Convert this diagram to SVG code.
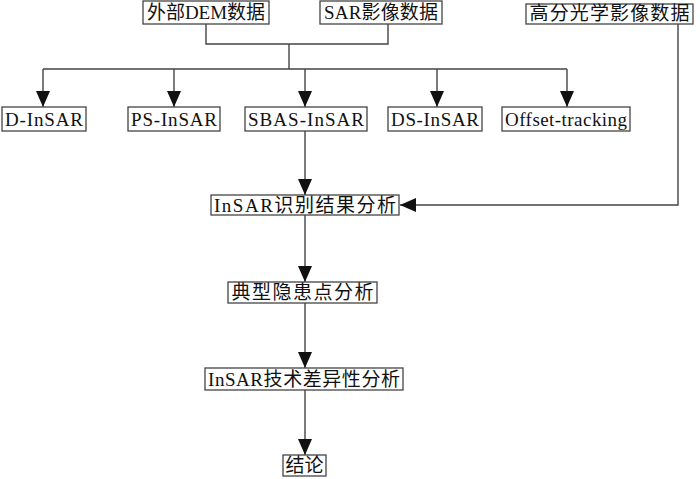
<svg xmlns="http://www.w3.org/2000/svg" width="700" height="479" viewBox="0 0 700 479">
<defs>
<marker id="ah" viewBox="0 0 16 14" refX="16" refY="7" markerWidth="16" markerHeight="14" markerUnits="userSpaceOnUse" orient="auto">
<path d="M0,0 L16,7 L0,14 Z" fill="#111"/>
</marker>
</defs>
<style>
.box{fill:#fff;stroke:#444;stroke-width:1.3}
.t{font-family:"Liberation Serif","Noto Sans CJK SC",serif;font-size:19px;fill:#111;text-anchor:middle}
.c{fill:none;stroke:#444;stroke-width:1.4}
</style>
<rect width="700" height="479" fill="#fff"/>
<g id="connectors">
<polyline class="c" points="206,24 206,44 388,44 388,24"/>
<line class="c" x1="289" y1="44" x2="289" y2="69"/>
<line class="c" x1="43" y1="69" x2="567" y2="69"/>
<line class="c" x1="43" y1="69" x2="43" y2="107" marker-end="url(#ah)"/>
<line class="c" x1="174" y1="69" x2="174" y2="107" marker-end="url(#ah)"/>
<line class="c" x1="305" y1="69" x2="305" y2="107" marker-end="url(#ah)"/>
<line class="c" x1="437" y1="69" x2="437" y2="107" marker-end="url(#ah)"/>
<line class="c" x1="567" y1="69" x2="567" y2="107" marker-end="url(#ah)"/>
<line class="c" x1="305" y1="131" x2="305" y2="195" marker-end="url(#ah)"/>
<polyline class="c" points="678,24 678,205 400,205" marker-end="url(#ah)"/>
<line class="c" x1="305" y1="215" x2="305" y2="282" marker-end="url(#ah)"/>
<line class="c" x1="305" y1="303" x2="305" y2="368" marker-end="url(#ah)"/>
<line class="c" x1="305" y1="390" x2="305" y2="455" marker-end="url(#ah)"/>
</g>
<g id="dem"><rect class="box" x="143" y="1" width="126" height="23"/><text class="t" x="206" y="19" textLength="118" lengthAdjust="spacing">外部DEM数据</text></g>
<g id="sar"><rect class="box" x="320" y="1" width="122" height="23"/><text class="t" x="381" y="19" textLength="114" lengthAdjust="spacing">SAR影像数据</text></g>
<g id="optical"><rect class="box" x="526" y="4" width="167" height="20"/><text class="t" x="609.5" y="20" textLength="160" lengthAdjust="spacing">高分光学影像数据</text></g>
<g id="dinsar"><rect class="box" x="2" y="107" width="84" height="24"/><text class="t" x="44" y="126" textLength="78" lengthAdjust="spacing">D-InSAR</text></g>
<g id="psinsar"><rect class="box" x="128" y="107" width="92" height="24"/><text class="t" x="174" y="126" textLength="86" lengthAdjust="spacing">PS-InSAR</text></g>
<g id="sbas"><rect class="box" x="245" y="107" width="122" height="24"/><text class="t" x="306" y="126" textLength="116" lengthAdjust="spacing">SBAS-InSAR</text></g>
<g id="dsinsar"><rect class="box" x="388" y="107" width="94" height="24"/><text class="t" x="435" y="126" textLength="88" lengthAdjust="spacing">DS-InSAR</text></g>
<g id="offset"><rect class="box" x="502" y="107" width="128" height="24"/><text class="t" x="566" y="126" textLength="122" lengthAdjust="spacing">Offset-tracking</text></g>
<g id="result"><rect class="box" x="211" y="195" width="188" height="20"/><text class="t" x="305" y="212" textLength="182" lengthAdjust="spacing">InSAR识别结果分析</text></g>
<g id="typical"><rect class="box" x="228" y="282" width="149" height="21"/><text class="t" x="302.5" y="299" textLength="142" lengthAdjust="spacing">典型隐患点分析</text></g>
<g id="diff"><rect class="box" x="205" y="368" width="198" height="22"/><text class="t" x="304" y="386" textLength="192" lengthAdjust="spacing">InSAR技术差异性分析</text></g>
<g id="concl"><rect class="box" x="283" y="455" width="43" height="21"/><text class="t" x="304.5" y="472" textLength="38" lengthAdjust="spacing">结论</text></g>
</svg>
